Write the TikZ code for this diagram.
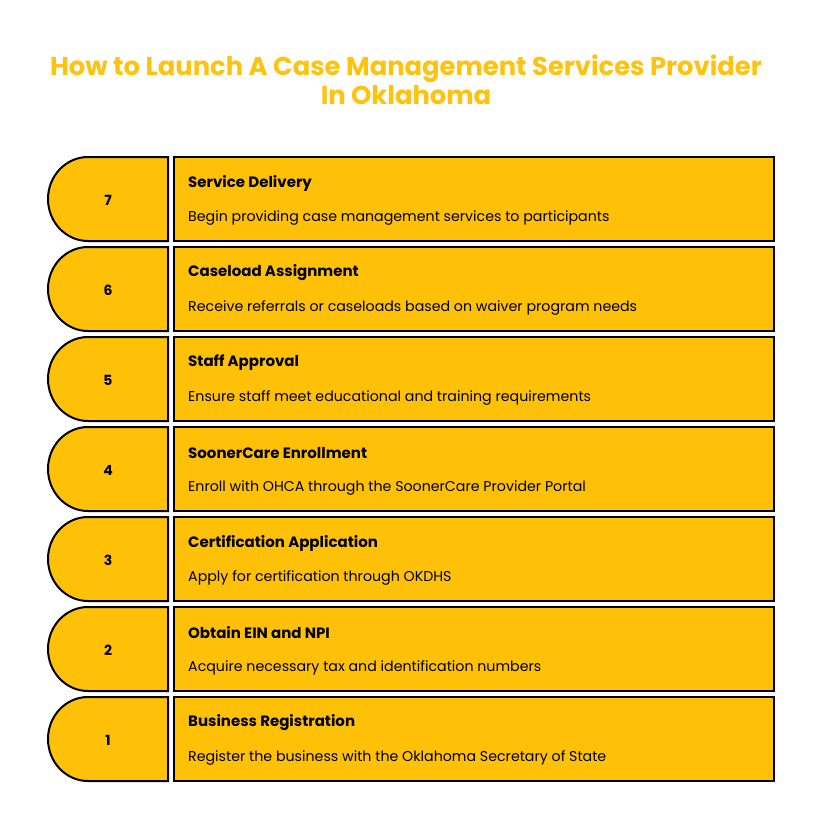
\documentclass[tikz,border=0pt]{standalone}
\usepackage{fontspec}
\setmainfont{Poppins}
\definecolor{amber}{HTML}{FFC107}
\definecolor{titlec}{HTML}{FFC20E}
\begin{document}
\begin{tikzpicture}[x=1pt,y=-1pt,
  tab/.style={draw=black,line width=2pt,fill=amber},
  numtxt/.style={font=\fontsize{14}{16}\selectfont\bfseries},
  headtxt/.style={anchor=west,font=\fontsize{15}{16}\selectfont\bfseries,inner sep=0},
  desctxt/.style={anchor=west,font=\fontsize{14.2}{16}\selectfont,inner sep=0}]
\useasboundingbox (0,0) rectangle (822,814);
\node[text=titlec,font=\fontsize{25.8}{29}\selectfont\bfseries,align=center] (title) at (406,80)
  {How to Launch A Case Management Services Provider\\In Oklahoma};
\foreach \i/\n/\h/\d in {
 0/7/Service Delivery/Begin providing case management services to participants,
 1/6/Caseload Assignment/Receive referrals or caseloads based on waiver program needs,
 2/5/Staff Approval/Ensure staff meet educational and training requirements,
 3/4/SoonerCare Enrollment/Enroll with OHCA through the SoonerCare Provider Portal,
 4/3/Certification Application/Apply for certification through OKDHS,
 5/2/Obtain EIN and NPI/Acquire necessary tax and identification numbers,
 6/1/Business Registration/Register the business with the Oklahoma Secretary of State}{
  \pgfmathsetmacro{\yt}{157+90*\i}
  \pgfmathsetmacro{\yb}{\yt+84}
  \pgfmathsetmacro{\ym}{\yt+42}
  \draw[tab] (168,\yt) -- (88,\yt) arc[start angle=90,end angle=270,x radius=40pt,y radius=42pt] -- (168,\yb) -- cycle;
  \node[numtxt] (n\n) at (108,\ym+1) {\n};
  \draw[tab] (174,\yt) rectangle (774,\yb);
  \node[headtxt] (h\n) at (188,\yt+26) {\h};
  \node[desctxt] (d\n) at (188,\yt+61) {\d};
}
\end{tikzpicture}
\end{document}
